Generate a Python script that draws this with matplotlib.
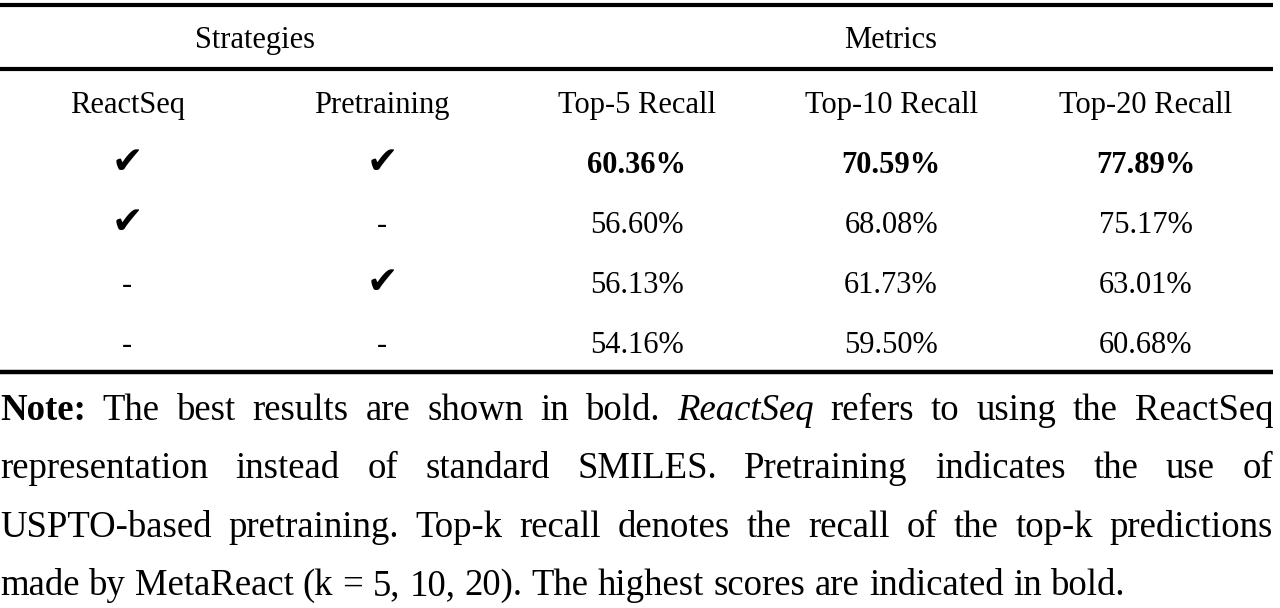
import re
import matplotlib
matplotlib.use('Agg')
import matplotlib.pyplot as plt

# table content
group_headers = ['Strategies', 'Metrics']
col_headers = ['ReactSeq', 'Pretraining', 'Top-5 Recall', 'Top-10 Recall', 'Top-20 Recall']
reactseq = ['✔', '✔', '-', '-']
pretraining = ['✔', '-', '✔', '-']
top5 = [60.36, 56.60, 56.13, 54.16]
top10 = [70.59, 68.08, 61.73, 59.50]
top20 = [77.89, 75.17, 63.01, 60.68]
best_row = 0

# note, **bold** and *italic* markup; last line is not justified
note_lines = [
    "**Note:** The best results are shown in bold. *ReactSeq* refers to using the ReactSeq",
    "representation instead of standard SMILES. Pretraining indicates the use of",
    "USPTO-based pretraining. Top-k recall denotes the recall of the top-k predictions",
    "made by MetaReact (k = 5, 10, 20). The highest scores are indicated in bold.",
]

W, H = 1280, 608
fig = plt.figure(figsize=(W / 100, H / 100), dpi=100)
ax = fig.add_axes([0, 0, 1, 1])
ax.set_xlim(0, W)
ax.set_ylim(H, 0)
ax.axis('off')

serif = ['Liberation Serif', 'DejaVu Serif']
fs = 22
note_fs = 26.5
left, right = 0, 1273
ncol = len(col_headers)
colw = (right - left) / ncol
xc = [left + colw * (i + 0.5) for i in range(ncol)]

# rules
for y, lw in [(4.5, 3.0), (68.5, 3.0), (372, 3.2)]:
    ax.plot([left, right], [y, y], color='black', lw=lw, solid_capstyle='butt')

# group headers
ax.text((xc[0] + xc[1]) / 2, 48, group_headers[0], ha='center', va='baseline',
        fontsize=fs, family=serif)
ax.text(xc[3], 48, group_headers[1], ha='center', va='baseline',
        fontsize=fs, family=serif)

for i, h in enumerate(col_headers):
    ax.text(xc[i], 113, h, ha='center', va='baseline', fontsize=fs, family=serif)

row_center = [162, 222, 282, 342]
for r in range(len(top5)):
    wt = 'bold' if r == best_row else 'normal'
    base = row_center[r] + 11
    for c, v in enumerate([reactseq[r], pretraining[r]]):
        if v == '✔':
            ax.text(xc[c], row_center[r] + 1, v, ha='center', va='center',
                    fontsize=27, family=['DejaVu Sans'])
        else:
            ax.text(xc[c], base, v, ha='center', va='baseline',
                    fontsize=fs, family=serif)
    for c, vals in zip([2, 3, 4], [top5, top10, top20]):
        ax.text(xc[c], base, f'{vals[r]:.2f}%', ha='center', va='baseline',
                fontsize=fs, family=serif, fontweight=wt)

# justified note paragraph
note_base = [420, 478.5, 537, 595]
renderer = fig.canvas.get_renderer()


def parse(line):
    words = []
    for tok in line.split(' '):
        m = re.fullmatch(r'\*\*(.+)\*\*', tok)
        if m:
            words.append((m.group(1), 'bold', 'normal'))
            continue
        m = re.fullmatch(r'\*(.+)\*', tok)
        if m:
            words.append((m.group(1), 'normal', 'italic'))
            continue
        words.append((tok, 'normal', 'normal'))
    return words


space = ax.text(0, 0, 'a a', fontsize=note_fs, family=serif)
aa = ax.text(0, 0, 'aa', fontsize=note_fs, family=serif)
sp_w = (space.get_window_extent(renderer).width - aa.get_window_extent(renderer).width)
space.remove()
aa.remove()

for li, line in enumerate(note_lines):
    words = parse(line)
    objs = []
    for w, wt, st in words:
        t = ax.text(0, note_base[li], w, ha='left', va='baseline', fontsize=note_fs,
                    family=serif, fontweight=wt, fontstyle=st)
        objs.append(t)
    widths = [t.get_window_extent(renderer).width for t in objs]
    if li < len(note_lines) - 1:
        gap = (right - left - sum(widths)) / (len(objs) - 1)
    else:
        gap = sp_w
    x = left
    for t, wd in zip(objs, widths):
        t.set_x(x)
        x += wd + gap

fig.savefig('out.png', dpi=100, facecolor='white')
